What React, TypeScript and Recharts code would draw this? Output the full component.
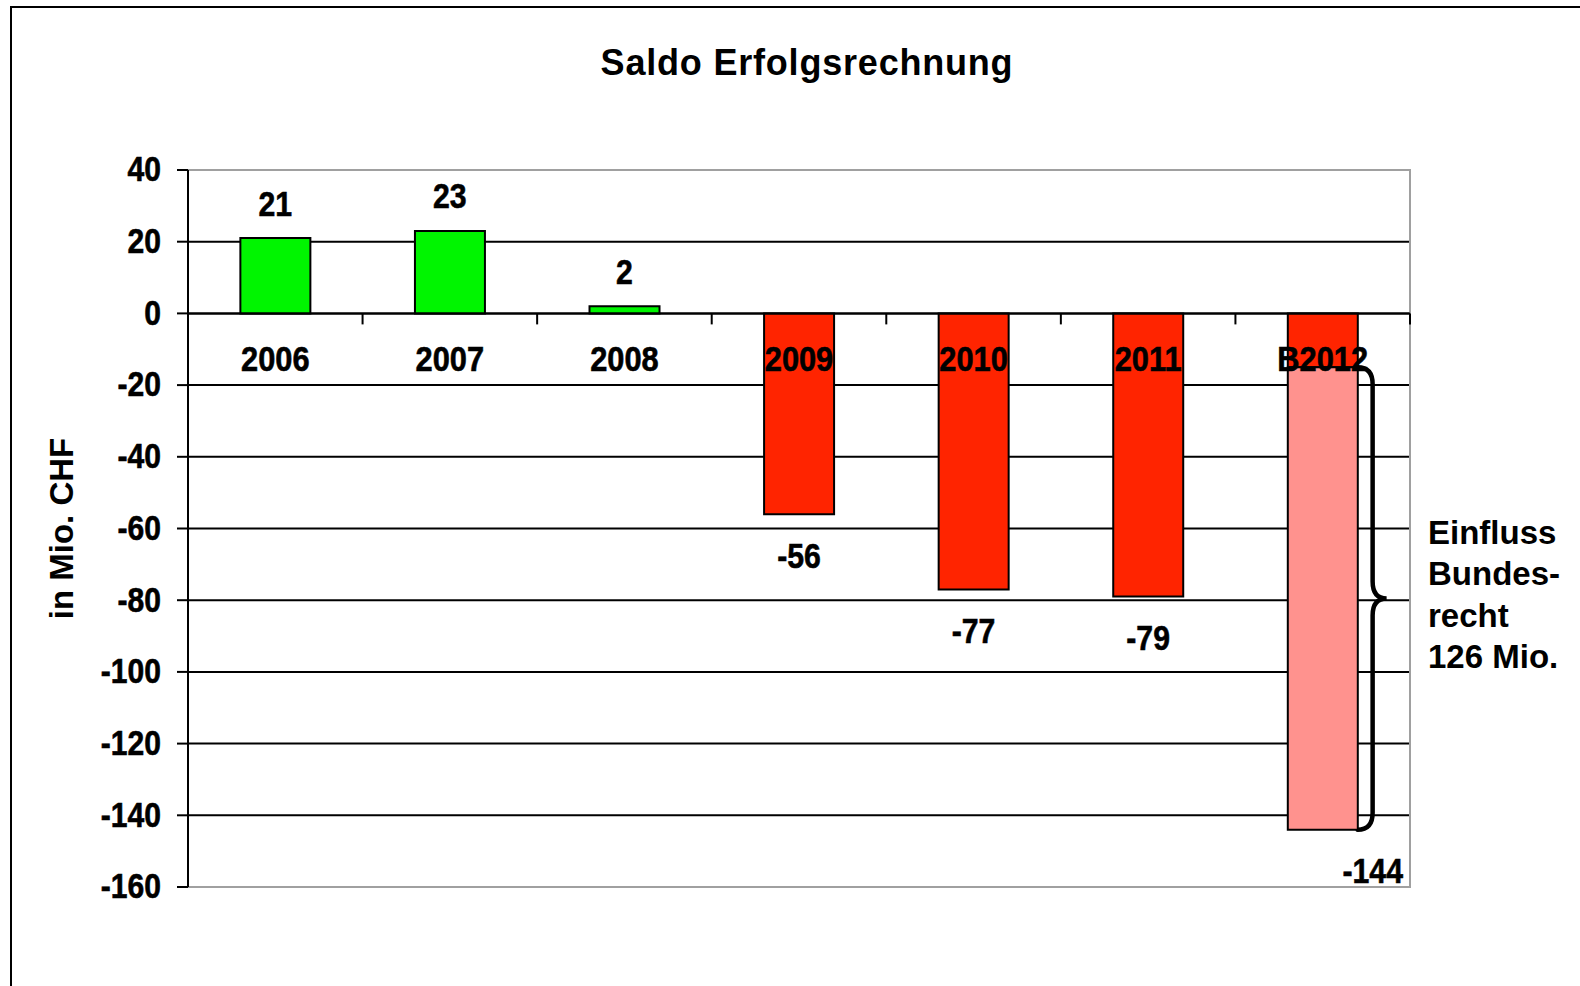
import {
  Bar,
  BarChart,
  CartesianGrid,
  Cell,
  ReferenceArea,
  ReferenceDot,
  ReferenceLine,
  XAxis,
  YAxis,
} from "recharts";

const categories = ["2006", "2007", "2008", "2009", "2010", "2011", "B2012"];
// Saldo bar, plus the extra federal-law part stacked under B2012
const saldo = [21, 23, 2, -56, -77, -79, -15];
const bundesrecht = [null, null, null, null, null, null, -129];
const totals = [21, 23, 2, -56, -77, -79, -144];
const yTicks = [40, 20, 0, -20, -40, -60, -80, -100, -120, -140, -160];
const noteLines = ["Einfluss", "Bundes-", "recht", "126 Mio."];

const GREEN = "#00f500";
const RED = "#ff2400";
const PINK = "#ff928e";

const SANS = '"Liberation Sans", Arial, sans-serif';

const chartData = categories.map((c, i) => ({
  name: c,
  saldo: saldo[i],
  bund: bundesrecht[i],
}));

// no narrow font installed, so squeeze Liberation Sans horizontally
function NarrowText({ x, y, anchor = "middle", size, squeeze = 0.84, children }: any) {
  return (
    <text
      transform={`translate(${x} ${y}) scale(${squeeze} 1)`}
      x={0}
      y={0}
      textAnchor={anchor}
      dominantBaseline="central"
      fontFamily={SANS}
      fontWeight={700}
      fontSize={size}
      fill="#000"
      stroke="#000"
      strokeWidth={0.6}
    >
      {children}
    </text>
  );
}

function PlainText(props: any) {
  const { viewBox, text, dx = 0, dy = 0, size = 36, squeeze } = props;
  const vb = viewBox || {};
  const cx = (vb.x || 0) + (vb.width || 0) / 2 + dx;
  const cy = (vb.y || 0) + (vb.height || 0) / 2 + dy;
  return (
    <NarrowText x={cx} y={cy} size={size} squeeze={squeeze}>
      {text}
    </NarrowText>
  );
}

function YTick(props: any) {
  const { x, y, payload } = props;
  return (
    <NarrowText x={x} y={y - 1} anchor="end" size={35} squeeze={0.86}>
      {payload.value}
    </NarrowText>
  );
}

// small tick below the zero line at the right edge of each category band
function BandTick(props: any) {
  const { x, y, width } = props;
  const xe = x + width;
  return <line x1={xe} x2={xe} y1={y} y2={y + 11} stroke="#000" strokeWidth={2} />;
}

// curly brace right of the B2012 bar
function Brace(props: any) {
  const { x, y, width, height } = props;
  const x0 = x + width / 2 + width * 0.2;
  const xs = x0 + 15;
  const tip = x0 + 29;
  const y0 = y;
  const y1 = y + height;
  const mid = (y0 + y1) / 2;
  const r = 17;
  const d = `M ${x0} ${y0} Q ${xs} ${y0} ${xs} ${y0 + r} L ${xs} ${mid - r} Q ${xs} ${mid} ${tip} ${mid} Q ${xs} ${mid} ${xs} ${mid + r} L ${xs} ${y1 - r} Q ${xs} ${y1} ${x0} ${y1}`;
  return <path d={d} fill="none" stroke="#000" strokeWidth={4.5} strokeLinecap="round" />;
}

function Border(props: any) {
  const { x, y, width, height } = props;
  return (
    <rect x={x} y={y} width={width} height={height} fill="none" stroke="#a0a0a0" strokeWidth={2} />
  );
}

export default function App() {
  const last = categories.length - 1;
  return (
    <div
      style={{
        position: "absolute",
        left: 0,
        top: 0,
        width: 1580,
        height: 986,
        overflow: "hidden",
        background: "#fff",
      }}
    >
      <div
        style={{
          position: "absolute",
          left: 10,
          top: 6,
          width: 1620,
          height: 1020,
          border: "2px solid #000",
        }}
      />
      <div
        style={{
          position: "absolute",
          left: 507,
          top: 45,
          width: 600,
          textAlign: "center",
          fontFamily: SANS,
          fontWeight: 700,
          fontSize: 36,
          lineHeight: "36px",
          letterSpacing: 0.8,
          color: "#000",
        }}
      >
        Saldo Erfolgsrechnung
      </div>

      <BarChart
        width={1580}
        height={986}
        data={chartData}
        margin={{ top: 170, right: 170, bottom: 99, left: 0 }}
        barCategoryGap="30%"
        style={{ position: "absolute", left: 0, top: 0 }}
      >
        <CartesianGrid vertical={false} stroke="#000" strokeWidth={2} />
        <XAxis dataKey="name" hide />
        <YAxis
          width={188}
          domain={[-160, 40]}
          ticks={yTicks}
          interval={0}
          tickSize={11}
          tickMargin={16}
          axisLine={{ stroke: "#000", strokeWidth: 2 }}
          tickLine={{ stroke: "#000", strokeWidth: 2 }}
          tick={<YTick />}
          label={{
            value: "in Mio. CHF",
            angle: -90,
            position: "insideLeft",
            offset: 61,
            style: {
              textAnchor: "middle",
              fill: "#000",
              fontSize: 33,
              fontWeight: 700,
              fontFamily: SANS,
            },
          }}
        />
        <ReferenceArea
          x1={categories[0]}
          x2={categories[last]}
          y1={-160}
          y2={40}
          ifOverflow="visible"
          shape={Border}
        />
        <Bar dataKey="saldo" stackId="a" stroke="#000" strokeWidth={2} isAnimationActive={false}>
          {chartData.map((d, i) => (
            <Cell key={i} fill={d.saldo >= 0 ? GREEN : RED} />
          ))}
        </Bar>
        <Bar dataKey="bund" stackId="a" fill={PINK} stroke="#000" strokeWidth={2} isAnimationActive={false} />
        <ReferenceLine y={0} stroke="#000" strokeWidth={2} />
        {categories.map((c) => (
          <ReferenceArea
            key={`t${c}`}
            x1={c}
            x2={c}
            y1={0}
            y2={0}
            ifOverflow="visible"
            shape={BandTick}
          />
        ))}
        <ReferenceArea
          x1={categories[last]}
          x2={categories[last]}
          y1={saldo[last]}
          y2={totals[last]}
          ifOverflow="visible"
          shape={Brace}
        />
        {categories.map((c) => (
          <ReferenceDot
            key={`c${c}`}
            x={c}
            y={0}
            r={0}
            fill="none"
            stroke="none"
            label={<PlainText text={c} dy={45} size={35} squeeze={0.88} />}
          />
        ))}
        {categories.map((c, i) => (
          <ReferenceDot
            key={`v${c}`}
            x={c}
            y={totals[i]}
            r={0}
            fill="none"
            stroke="none"
            label={
              <PlainText
                text={String(totals[i])}
                dx={i === last ? 50 : 0}
                dy={totals[i] >= 0 ? -35 : 41}
                size={36}
                squeeze={0.84}
              />
            }
          />
        ))}
      </BarChart>

      <div
        style={{
          position: "absolute",
          left: 1428,
          top: 512,
          fontFamily: SANS,
          fontWeight: 700,
          fontSize: 33,
          lineHeight: "41.3px",
          color: "#000",
        }}
      >
        {noteLines.map((l) => (
          <div key={l}>{l}</div>
        ))}
      </div>
    </div>
  );
}
